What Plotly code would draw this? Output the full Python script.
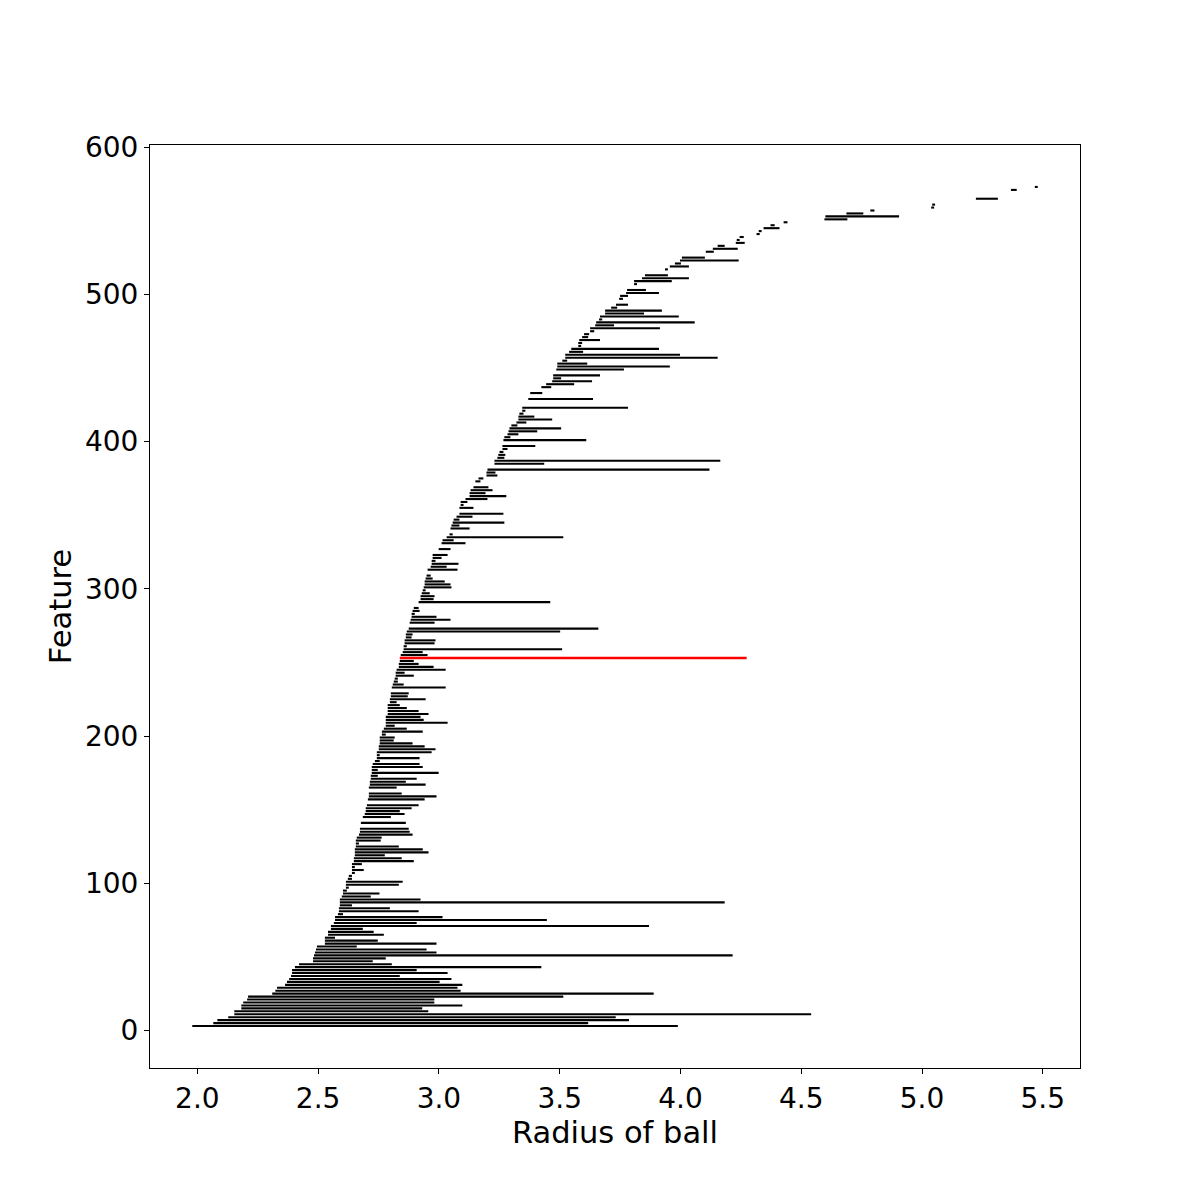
import plotly.graph_objects as go

# Feature index (y), ball radius where each feature starts and ends
feature_y = [3, 5, 7, 9, 11, 13, 15, 17, 19, 21, 23, 25, 27, 29, 31, 33, 35, 37, 39, 41,
             43, 45, 47, 49, 51, 53, 55, 57, 59, 61, 63, 65, 67, 69, 71, 73, 75, 77, 79, 81,
             83, 85, 87, 89, 91, 93, 95, 97, 99, 101, 103, 105, 107, 109, 111, 113, 115, 117, 119, 121,
             123, 125, 127, 129, 131, 133, 135, 137, 141, 145, 147, 149, 151, 153, 157, 159, 161, 165, 167, 169,
             171, 173, 175, 177, 179, 181, 183, 185, 187, 189, 191, 193, 195, 197, 199, 201, 203, 205, 207, 209,
             211, 213, 215, 217, 219, 221, 223, 225, 227, 229, 233, 235, 237, 239, 241, 243, 245, 247, 249, 251,
             253, 255, 257, 259, 261, 263, 265, 267, 269, 271, 273, 277, 279, 281, 283, 285, 287, 291, 293, 295,
             297, 299, 301, 303, 305, 307, 309, 313, 315, 317, 319, 321, 323, 327, 331, 333, 335, 337, 341, 343,
             345, 347, 349, 351, 355, 357, 359, 361, 363, 365, 367, 369, 373, 375, 377, 379, 381, 385, 387, 389,
             391, 393, 395, 397, 401, 403, 405, 407, 409, 411, 413, 415, 417, 419, 421, 423, 429, 433, 437, 439,
             441, 443, 445, 449, 451, 453, 455, 457, 459, 461, 463, 465, 467, 469, 471, 473, 475, 477, 479, 481,
             483, 485, 487, 489, 491, 493, 497, 499, 501, 503, 507, 509, 511, 513, 517, 519, 521, 523, 525, 529,
             531, 533, 535, 537, 539, 541, 543, 545, 547, 549, 551, 553, 555, 557, 559, 561, 565, 571, 573]

radius_start = [1.979, 2.066, 2.083, 2.128, 2.153, 2.153, 2.182, 2.182, 2.190, 2.206,
                2.210, 2.310, 2.323, 2.330, 2.363, 2.371, 2.380, 2.388, 2.392, 2.392,
                2.404, 2.421, 2.479, 2.479, 2.483, 2.487, 2.491, 2.495, 2.528, 2.528,
                2.528, 2.541, 2.541, 2.553, 2.553, 2.565, 2.570, 2.570, 2.582, 2.586,
                2.586, 2.590, 2.590, 2.590, 2.598, 2.603, 2.603, 2.615, 2.615, 2.615,
                2.623, 2.627, 2.640, 2.640, 2.640, 2.640, 2.648, 2.648, 2.652, 2.652,
                2.652, 2.656, 2.656, 2.656, 2.660, 2.669, 2.673, 2.673, 2.677, 2.685,
                2.693, 2.697, 2.697, 2.702, 2.706, 2.710, 2.710, 2.710, 2.714, 2.714,
                2.718, 2.718, 2.722, 2.722, 2.722, 2.726, 2.735, 2.743, 2.743, 2.743,
                2.751, 2.751, 2.755, 2.755, 2.755, 2.764, 2.764, 2.772, 2.780, 2.780,
                2.780, 2.780, 2.788, 2.788, 2.788, 2.788, 2.797, 2.797, 2.801, 2.801,
                2.805, 2.809, 2.813, 2.817, 2.821, 2.821, 2.825, 2.834, 2.834, 2.838,
                2.838, 2.842, 2.850, 2.854, 2.854, 2.858, 2.858, 2.863, 2.863, 2.867,
                2.875, 2.879, 2.883, 2.887, 2.887, 2.891, 2.896, 2.916, 2.924, 2.924,
                2.929, 2.933, 2.937, 2.941, 2.941, 2.945, 2.949, 2.953, 2.966, 2.970,
                2.970, 2.974, 2.974, 2.999, 3.011, 3.015, 3.032, 3.044, 3.048, 3.052,
                3.057, 3.061, 3.073, 3.085, 3.085, 3.090, 3.090, 3.110, 3.127, 3.127,
                3.131, 3.143, 3.151, 3.164, 3.197, 3.197, 3.201, 3.230, 3.230, 3.242,
                3.246, 3.251, 3.263, 3.263, 3.267, 3.271, 3.284, 3.288, 3.292, 3.300,
                3.321, 3.329, 3.329, 3.333, 3.345, 3.345, 3.370, 3.378, 3.424, 3.444,
                3.469, 3.473, 3.473, 3.486, 3.490, 3.490, 3.511, 3.523, 3.523, 3.539,
                3.548, 3.577, 3.577, 3.581, 3.593, 3.601, 3.626, 3.626, 3.647, 3.651,
                3.663, 3.667, 3.688, 3.688, 3.713, 3.733, 3.746, 3.750, 3.775, 3.779,
                3.808, 3.808, 3.841, 3.853, 3.936, 3.956, 3.977, 3.998, 4.006, 4.105,
                4.134, 4.154, 4.229, 4.233, 4.245, 4.315, 4.324, 4.344, 4.373, 4.427,
                4.596, 4.600, 4.687, 4.786, 5.038, 5.042, 5.223, 5.368, 5.467]

radius_end = [3.989, 3.618, 3.787, 3.732, 4.541, 2.956, 2.931, 3.097, 2.981, 2.981,
              3.515, 3.889, 3.090, 3.077, 3.097, 3.003, 3.052, 2.838, 3.036, 2.908,
              3.424, 2.805, 2.726, 2.780, 4.216, 2.990, 2.949, 2.660, 2.990, 2.747,
              2.570, 2.772, 2.730, 2.685, 3.870, 2.908, 3.447, 3.015, 2.603, 2.916,
              2.797, 2.640, 4.183, 2.924, 2.718, 2.754, 2.619, 2.627, 2.834, 2.850,
              2.640, 2.640, 2.652, 2.689, 2.652, 2.681, 2.896, 2.846, 2.776, 2.957,
              2.933, 2.834, 2.669, 2.759, 2.763, 2.891, 2.879, 2.875, 2.863, 2.801,
              2.858, 2.838, 2.887, 2.916, 2.941, 2.990, 2.846, 2.825, 2.945, 2.863,
              2.908, 2.747, 2.999, 2.747, 2.933, 2.920, 2.755, 2.920, 2.755, 2.970,
              2.986, 2.941, 2.891, 2.813, 2.817, 2.780, 2.933, 2.867, 2.817, 3.036,
              2.937, 2.924, 2.957, 2.916, 2.867, 2.838, 2.825, 2.945, 2.871, 2.875,
              3.028, 2.854, 2.830, 2.830, 2.896, 2.858, 3.028, 2.978, 2.916, 2.896,
              4.274, 2.953, 2.933, 3.510, 2.867, 2.982, 2.986, 2.887, 2.891, 3.502,
              3.660, 2.982, 3.048, 2.990, 2.900, 2.920, 2.916, 3.461, 2.978, 2.982,
              2.962, 2.945, 3.052, 3.048, 3.024, 2.974, 2.966, 3.077, 3.032, 3.081,
              2.986, 3.011, 3.036, 3.048, 3.110, 3.061, 3.515, 3.057, 3.127, 3.085,
              3.271, 3.085, 3.139, 3.267, 3.143, 3.102, 3.118, 3.201, 3.279, 3.193,
              3.222, 3.205, 3.172, 3.184, 3.242, 3.234, 4.120, 3.436, 4.165, 3.271,
              3.275, 3.267, 3.284, 3.399, 3.610, 3.296, 3.329, 3.407, 3.506, 3.325,
              3.362, 3.469, 3.395, 3.350, 3.358, 3.783, 3.638, 3.428, 3.465, 3.560,
              3.634, 3.506, 3.667, 3.766, 3.956, 3.614, 3.531, 4.154, 3.998, 3.597,
              3.911, 3.589, 3.593, 3.667, 3.618, 3.622, 3.643, 3.915, 3.725, 4.059,
              3.676, 3.993, 3.849, 3.923, 3.738, 3.783, 3.762, 3.783, 3.911, 3.857,
              3.820, 3.964, 4.035, 3.948, 3.948, 4.035, 4.002, 4.241, 4.101, 4.138,
              4.237, 4.183, 4.266, 4.245, 4.262, 4.328, 4.336, 4.410, 4.390, 4.443,
              4.691, 4.905, 4.757, 4.803, 5.050, 5.054, 5.314, 5.392, 5.479]

highlight_feature = 253

x_ticks = [2.0, 2.5, 3.0, 3.5, 4.0, 4.5, 5.0, 5.5]
y_ticks = [0, 100, 200, 300, 400, 500, 600]

bx, by, rx, ry = [], [], [], []
for yv, x0, x1 in zip(feature_y, radius_start, radius_end):
    if yv == highlight_feature:
        rx += [x0, x1, None]
        ry += [yv, yv, None]
    else:
        bx += [x0, x1, None]
        by += [yv, yv, None]

fig = go.Figure()
fig.add_trace(go.Scatter(x=bx, y=by, mode="lines",
                         line=dict(color="black", width=2.1), showlegend=False,
                         connectgaps=False, hoverinfo="skip"))
fig.add_trace(go.Scatter(x=rx, y=ry, mode="lines",
                         line=dict(color="#ff0000", width=2.6), showlegend=False,
                         hoverinfo="skip"))

tick_font = dict(family="DejaVu Sans", size=28, color="black")
title_font = dict(family="DejaVu Sans", size=30.5, color="black")
fig.update_layout(
    width=1200, height=1200,
    margin=dict(l=142, r=128, t=137, b=140),
    paper_bgcolor="white", plot_bgcolor="white",
    font=tick_font,
    xaxis=dict(range=[1.804, 5.654], tickvals=x_ticks, tickformat=".1f",
               ticks="outside", ticklen=5, tickwidth=1, tickcolor="black",
               showline=True, linecolor="black", linewidth=1, mirror=True,
               showgrid=False, zeroline=False, tickfont=tick_font,
               title=dict(text="Radius of ball", font=title_font, standoff=0)),
    yaxis=dict(range=[-25.5, 601.5], tickvals=y_ticks,
               ticks="outside", ticklen=5, tickwidth=1, tickcolor="black",
               showline=True, linecolor="black", linewidth=1, mirror=True,
               showgrid=False, zeroline=False, tickfont=tick_font,
               title=dict(text="Feature", font=title_font, standoff=4)),
)

fig.write_html("out.html")
